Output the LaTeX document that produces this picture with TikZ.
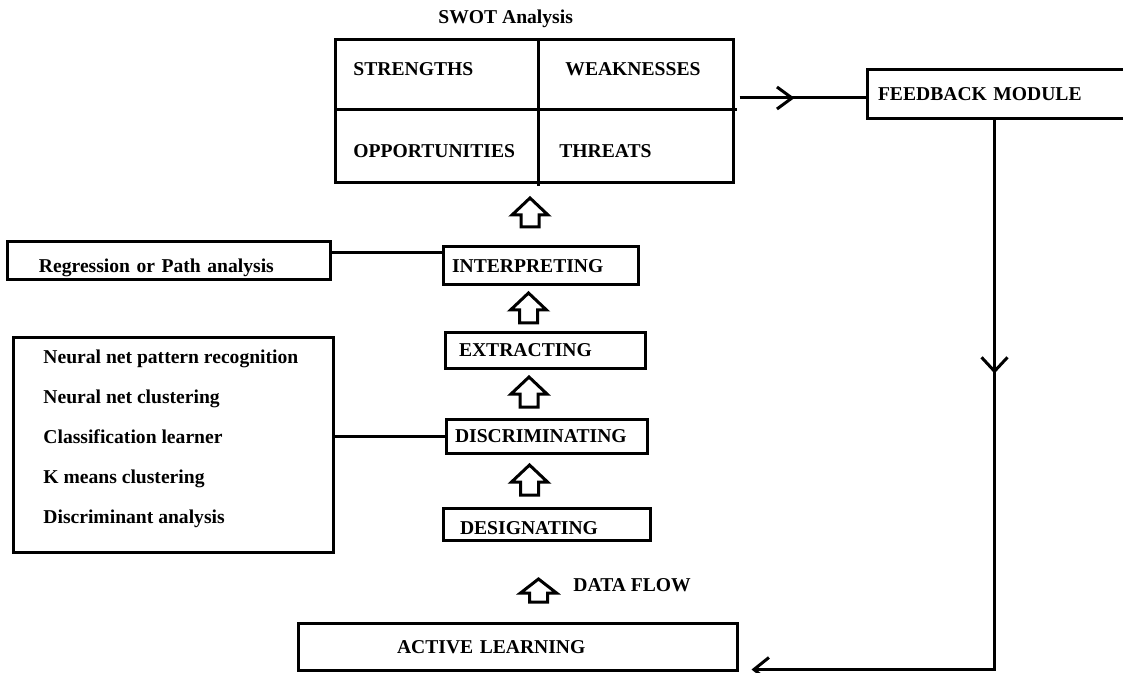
\documentclass[tikz,border=0pt]{standalone}
\usepackage{fontspec}
\setmainfont{Liberation Serif}
\usetikzlibrary{arrows.meta,decorations.markings}
\begin{document}
\begin{tikzpicture}[x=0.5pt,y=-0.5pt,
  every node/.style={font=\fontsize{9.8pt}{12pt}\selectfont\bfseries},
  box/.style={draw, line width=1.5pt, inner ysep=0pt, text height=6.5pt, text depth=0pt, align=left},
  txt/.style={inner sep=0pt, anchor=base west},
  conn/.style={line width=1.5pt},
  pics/blockup/.style n args={2}{code={
    \draw[line width=1.5pt, line join=miter, fill=white]
      (-9,0) -- (9,0) -- (9,-#2) -- (18,-#2) -- (0,{-#1-#2}) -- (-18,-#2) -- (-9,-#2) -- cycle;
  }}
]
\useasboundingbox (0,0) rectangle (1123,673);

% SWOT grid
\node[txt] (swottitle) at (438,24) {SWOT Analysis};
\node[box, minimum width=199pt, minimum height=71.5pt] (swot) at (534,111.5) {};
\draw[conn] (335,110) -- (737,110);
\draw[conn] (538,40) -- (538,186);
\node[txt] (str) at (353,76) {STRENGTHS};
\node[txt] (weak) at (565,76) {WEAKNESSES};
\node[txt] (opp) at (353,158) {OPPORTUNITIES};
\node[txt] (thr) at (559,158) {THREATS};

% feedback module, running past the right edge
\node[box, minimum width=136.5pt, minimum height=24.5pt, inner xsep=5.5pt, text width=125.5pt] (fb) at (1003.5,94.5) {FEEDBACK MODULE};

% processing stages
\node[box, minimum width=97.5pt, minimum height=19pt, inner xsep=4.5pt, text width=88.5pt] (interp) at (540.5,266) {INTERPRETING};
\node[box, minimum width=100pt, minimum height=17.5pt, inner xsep=7pt, text width=86pt] (extr) at (545,350.5) {EXTRACTING};
\node[box, minimum width=100.5pt, minimum height=17pt, inner xsep=4.5pt, text width=91.5pt] (disc) at (546.5,436) {DISCRIMINATING};
\node[box, minimum width=103.5pt, minimum height=16pt, inner xsep=8.5pt, text width=86.5pt, text height=10.5pt] (desig) at (546.5,524) {DESIGNATING};
\node[box, minimum width=219.5pt, minimum height=23.5pt, inner xsep=49.5pt, text width=120.5pt] (al) at (517.5,646.5) {ACTIVE LEARNING};

% side boxes
\node[box, minimum width=161.5pt, minimum height=19pt, inner xsep=16pt, text width=129.5pt, text height=11.5pt] (reg) at (168.5,261) {Regression or Path analysis};
\node[box, minimum width=160pt, minimum height=107pt] (methods) at (173,445) {};
\foreach \t [count=\i] in {Neural net pattern recognition, Neural net clustering, Classification learner, K means clustering, Discriminant analysis}
  \node[txt] (m\i) at (43,{363.5+40*(\i-1)}) {\t};

% block arrows of the data flow
\pic at (530,227) {blockup={17}{12}};
\pic at (528.5,323) {blockup={17}{13}};
\pic at (529,407) {blockup={17}{13}};
\pic at (529.5,495) {blockup={17}{13}};
\pic at (538.5,602) {blockup={14}{9}};
\node[txt] (df) at (573,591.5) {DATA FLOW};

% connectors
\coordinate (ry) at (0,253);
\draw[conn] (reg.east |- ry) -- (interp.west |- ry);
\draw[conn] (methods.east |- disc.west) -- (disc.west);

\coordinate (sa) at ([xshift=2.5pt,yshift=6.75pt]swot.east);
\draw[conn, postaction={decorate}, decoration={markings,
    mark=at position 27.5pt with {\arrow{Straight Barb[length=7.5pt,width=11pt]}}}]
  (sa) -- (sa -| fb.west);

\coordinate (fo) at ([xshift=64.5pt]fb.south west);
\coordinate (fi) at ([xshift=6.5pt,yshift=1pt]al.south east);
\draw[conn, -{Straight Barb[length=7.5pt,width=12pt]}, postaction={decorate}, decoration={markings,
    mark=at position 126.5pt with {\arrow{Straight Barb[length=7pt,width=13pt]}}}]
  (fo) |- (fi);
\end{tikzpicture}
\end{document}
